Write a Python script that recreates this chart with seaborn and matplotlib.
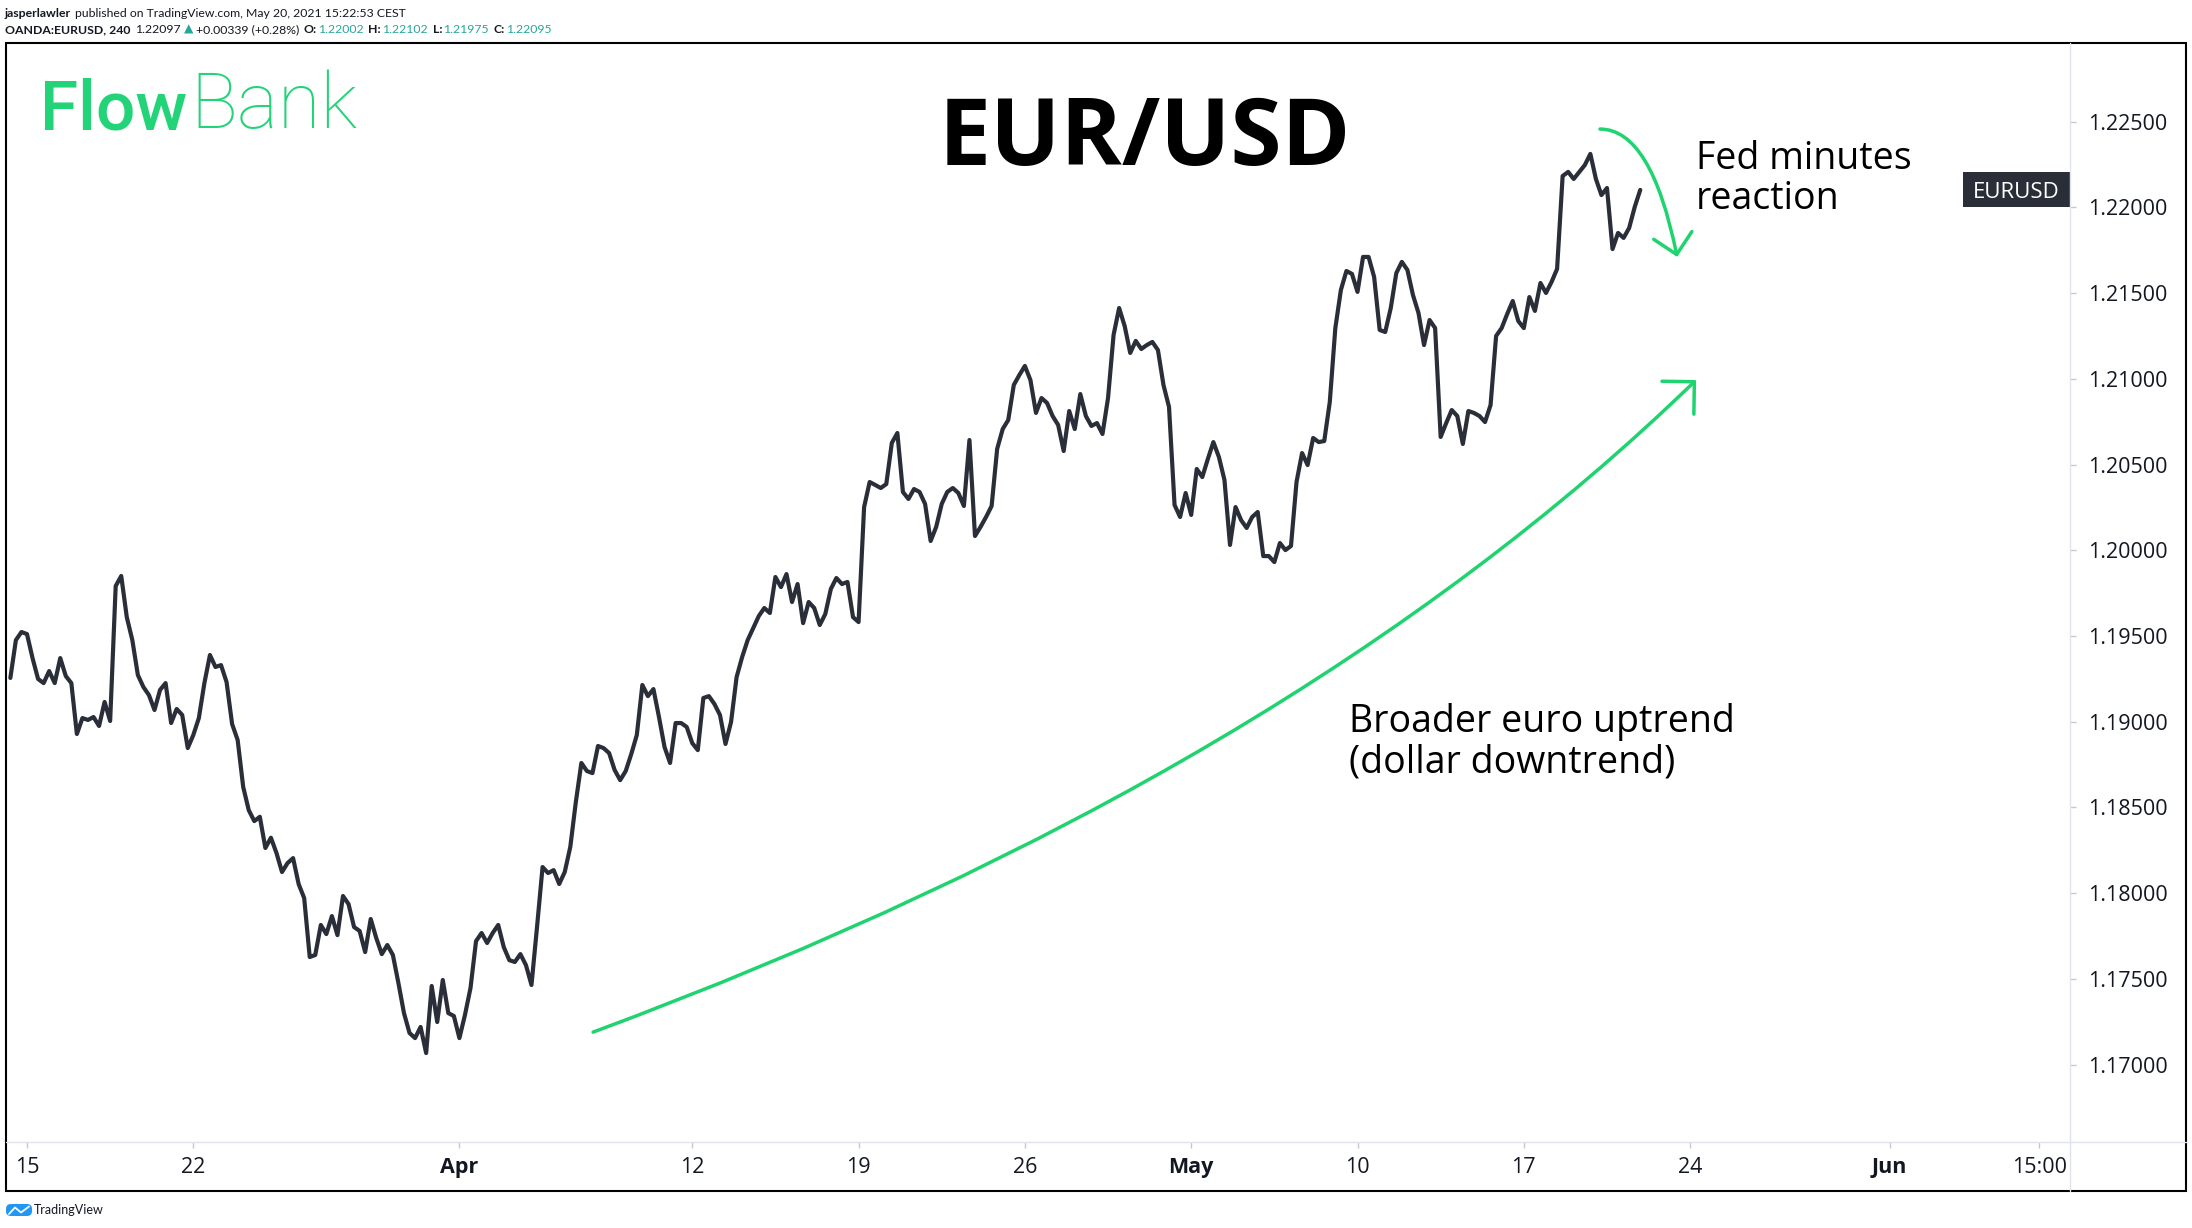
import numpy as np
import pandas as pd
import matplotlib
matplotlib.use("Agg")
import matplotlib.pyplot as plt
import seaborn as sns
from matplotlib import font_manager
from matplotlib.patches import FancyArrowPatch, Rectangle, FancyBboxPatch
from matplotlib.path import Path
from matplotlib.lines import Line2D
from matplotlib.transforms import blended_transform_factory
from matplotlib.ticker import FixedLocator, FixedFormatter

# ------------------------------------------------------------------ data
symbol = "EURUSD"
bars_per_day = 6          # 4-hour bars, 24h forex sessions
first_bar = -3            # first bar relative to Mon 15 Mar open

pre = [1.19255, 1.19476, 1.19523]
wk_0315 = [1.19511, 1.19371, 1.19249, 1.19225, 1.19295, 1.19225, 1.19371, 1.19266,
           1.19225, 1.18928, 1.19021, 1.19010, 1.19027, 1.18975, 1.19115, 1.19004,
           1.19791, 1.19850, 1.19610, 1.19476, 1.19272, 1.19202, 1.19155, 1.19068,
           1.19185, 1.19225, 1.18992, 1.19074, 1.19039, 1.18846]
wk_0322 = [1.18922, 1.19021, 1.19225, 1.19389, 1.19319, 1.19330, 1.19231, 1.18986,
           1.18893, 1.18619, 1.18484, 1.18420, 1.18445, 1.18263, 1.18323, 1.18234,
           1.18123, 1.18175, 1.18204, 1.18053, 1.17971, 1.17627, 1.17639, 1.17814,
           1.17761, 1.17866, 1.17755, 1.17983, 1.17936, 1.17802]
wk_0329 = [1.17779, 1.17656, 1.17849, 1.17738, 1.17644, 1.17697, 1.17639, 1.17475,
           1.17300, 1.17184, 1.17154, 1.17219, 1.17067, 1.17458, 1.17248, 1.17493,
           1.17300, 1.17283, 1.17154, 1.17289, 1.17446, 1.17720, 1.17767, 1.17709,
           1.17767, 1.17814, 1.17685, 1.17609, 1.17598, 1.17644]
wk_0405 = [1.17580, 1.17464, 1.17802, 1.18152, 1.18117, 1.18134, 1.18053, 1.18123,
           1.18269, 1.18531, 1.18759, 1.18712, 1.18700, 1.18858, 1.18846, 1.18817,
           1.18718, 1.18659, 1.18712, 1.18811, 1.18922, 1.19214, 1.19149, 1.19190,
           1.19027, 1.18852, 1.18759, 1.18992, 1.18992, 1.18969]
wk_0412 = [1.18875, 1.18834, 1.19138, 1.19149, 1.19103, 1.19039, 1.18870, 1.18998,
           1.19260, 1.19377, 1.19476, 1.19546, 1.19616, 1.19663, 1.19634, 1.19844,
           1.19785, 1.19861, 1.19698, 1.19803, 1.19575, 1.19698, 1.19663, 1.19564,
           1.19628, 1.19774, 1.19838, 1.19803, 1.19815, 1.19610]
wk_0419 = [1.19581, 1.20252, 1.20398, 1.20381, 1.20363, 1.20386, 1.20626, 1.20684,
           1.20340, 1.20299, 1.20357, 1.20340, 1.20270, 1.20054, 1.20136, 1.20270,
           1.20340, 1.20363, 1.20334, 1.20258, 1.20643, 1.20083, 1.20136, 1.20194,
           1.20258, 1.20591, 1.20707, 1.20760, 1.20964, 1.21022]
wk_0426 = [1.21075, 1.20993, 1.20801, 1.20888, 1.20859, 1.20783, 1.20731, 1.20579,
           1.20812, 1.20707, 1.20911, 1.20783, 1.20725, 1.20742, 1.20678, 1.20888,
           1.21256, 1.21413, 1.21308, 1.21151, 1.21221, 1.21174, 1.21197, 1.21215,
           1.21168, 1.20964, 1.20836, 1.20264, 1.20194, 1.20334]
wk_0503 = [1.20206, 1.20474, 1.20427, 1.20532, 1.20631, 1.20544, 1.20410, 1.20031,
           1.20252, 1.20176, 1.20130, 1.20194, 1.20223, 1.19966, 1.19966, 1.19931,
           1.20042, 1.20001, 1.20025, 1.20398, 1.20567, 1.20497, 1.20655, 1.20631,
           1.20637, 1.20865, 1.21296, 1.21518, 1.21629, 1.21612]
wk_0510 = [1.21507, 1.21711, 1.21711, 1.21594, 1.21285, 1.21273, 1.21413, 1.21617,
           1.21682, 1.21635, 1.21489, 1.21384, 1.21197, 1.21343, 1.21296, 1.20661,
           1.20742, 1.20818, 1.20783, 1.20620, 1.20812, 1.20801, 1.20783, 1.20748,
           1.20847, 1.21250, 1.21296, 1.21378, 1.21454, 1.21337]
wk_0517 = [1.21296, 1.21477, 1.21396, 1.21559, 1.21501, 1.21565, 1.21641, 1.22183,
           1.22207, 1.22166, 1.22207, 1.22247, 1.22312, 1.22166, 1.22072, 1.22113,
           1.21757, 1.21851, 1.21822, 1.21880, 1.22002, 1.22102]

time_tick_pos = [0, 5, 13, 20, 25, 30, 35, 40, 45, 50, 56, 60.5]
time_tick_labels = ["15", "22", "Apr", "12", "19", "26", "May", "10", "17", "24", "Jun", "15:00"]
month_labels = ["Apr", "May", "Jun"]
price_ticks = [1.170, 1.175, 1.180, 1.185, 1.190, 1.195, 1.200, 1.205, 1.210, 1.215, 1.220, 1.225]

hdr_last, hdr_chg, hdr_pct = "1.22097", "+0.00339", "+0.28%"
hdr_open, hdr_high, hdr_low, hdr_close = "1.22002", "1.22102", "1.21975", "1.22095"

title = "EUR/USD"
note_fed = ["Fed minutes", "reaction"]
note_trend = ["Broader euro uptrend", "(dollar downtrend)"]

# ------------------------------------------------------------------ style
sns.set_theme(style="white")
available = {f.name for f in font_manager.fontManager.ttflist}


def pick(*names):
    for n in names:
        if n in available:
            return n
    return "DejaVu Sans"


UI = pick("Open Sans", "Lato", "DejaVu Sans")
SMALL = pick("Lato", "Liberation Sans", "DejaVu Sans")
LOGO = pick("Liberation Sans Narrow", "Roboto", "Lato")
plt.rcParams["font.family"] = [UI, "DejaVu Sans"]

DARK = "#131722"
LINE = "#2a2e39"
GRID = "#e0e3eb"
TICK = "#c5c8d0"
TEAL = "#26a69a"
GREEN = "#1fd36f"
LOGO_GREEN = "#22d477"

W, H = 2192, 1228
fig = plt.figure(figsize=(W / 100, H / 100), dpi=100)
fig.patch.set_facecolor("white")

# plot area in pixels
L_px, R_px, T_px, B_px = 6, 2070, 43, 1142
ax = fig.add_axes([L_px / W, 1 - B_px / H, (R_px - L_px) / W, (B_px - T_px) / H])
ax.set_facecolor("white")

close = pre + wk_0315 + wk_0322 + wk_0329 + wk_0405 + wk_0412 + wk_0419 + wk_0426 + wk_0503 + wk_0510 + wk_0517
t_days = (np.arange(len(close)) + first_bar) / bars_per_day
df = pd.DataFrame({"t": t_days, "close": close})

sns.lineplot(data=df, x="t", y="close", ax=ax, color=LINE, linewidth=3.0,
             estimator=None, sort=False, zorder=3)
ax.lines[-1].set_solid_joinstyle("round")

ax.set_xlim(-0.631, 61.42)
ax.set_ylim(1.16548, 1.22959)
ax.set_xlabel("")
ax.set_ylabel("")
for s in ax.spines.values():
    s.set_visible(False)
ax.grid(False)

ax.yaxis.tick_right()
ax.yaxis.set_major_locator(FixedLocator(price_ticks))
ax.yaxis.set_major_formatter(FixedFormatter([f"{p:.5f}" for p in price_ticks]))
ax.tick_params(axis="y", which="both", right=True, left=False, labelright=True, labelleft=False,
               length=4, width=1, color=TICK, pad=9, labelsize=15.5, labelcolor=DARK)
ax.xaxis.set_major_locator(FixedLocator(time_tick_pos))
ax.xaxis.set_major_formatter(FixedFormatter(time_tick_labels))
ax.tick_params(axis="x", which="both", bottom=True, length=4, width=1, color=TICK,
               pad=7, labelsize=15.5, labelcolor=DARK)
for lab in ax.get_xticklabels():
    if lab.get_text() in month_labels:
        lab.set_fontweight("bold")

# last-price tag
blend = blended_transform_factory(ax.transAxes, ax.transData)
ax_w_px, ax_h_px = R_px - L_px, B_px - T_px
data_per_px = (ax.get_ylim()[1] - ax.get_ylim()[0]) / ax_h_px
tag_w = 107 / ax_w_px
tag_h = 35 * data_per_px
ax.add_patch(Rectangle((1 - tag_w, close[-1] - tag_h / 2), tag_w, tag_h, transform=blend,
                       facecolor=LINE, edgecolor="none", zorder=5, clip_on=False))
ax.text(1 - tag_w / 2, close[-1], symbol, transform=blend, ha="center", va="center_baseline",
        color="white", fontsize=16, zorder=6, clip_on=False)

# annotation arrows (data coordinates)
trend_path = Path([(17.02, 1.17189), (37.96, 1.18693), (50.18, 1.20993)],
                  [Path.MOVETO, Path.CURVE3, Path.CURVE3])
ax.add_patch(FancyArrowPatch(path=trend_path, arrowstyle="->,head_length=0.5,head_width=0.5",
                             mutation_scale=33, color=GREEN, lw=2.5, zorder=4,
                             transform=ax.transData))
fed_path = Path([(47.29, 1.22457), (48.83, 1.22457), (49.61, 1.21711)],
                [Path.MOVETO, Path.CURVE3, Path.CURVE3])
ax.add_patch(FancyArrowPatch(path=fed_path, arrowstyle="->,head_length=0.5,head_width=0.5",
                             mutation_scale=28, color=GREEN, lw=2.5, zorder=4,
                             transform=ax.transData))

# ------------------------------------------------------------------ overlay (pixel coords)
ov = fig.add_axes([0, 0, 1, 1], zorder=10)
ov.set_xlim(0, W)
ov.set_ylim(H, 0)
ov.axis("off")

ov.add_line(Line2D([R_px, R_px], [T_px, 1191], color=GRID, lw=1.0))
ov.add_line(Line2D([L_px, 2186], [B_px, B_px], color=GRID, lw=1.0))
ov.add_patch(Rectangle((6, 43), 2180, 1148, fill=False, edgecolor="black", lw=1.5))


def chain(parts, x, y, family):
    prev = None
    for text, weight, color, gap, fontsize in parts:
        if prev is None:
            prev = ov.text(x, y, text, ha="left", va="baseline", fontsize=fontsize,
                           fontweight=weight, color=color, family=family)
        else:
            prev = ov.annotate(text, xy=(1, 0), xycoords=prev, xytext=(gap, 0),
                               textcoords="offset pixels", ha="left", va="bottom",
                               fontsize=fontsize, fontweight=weight, color=color,
                               family=family)
    return prev


hfam = [SMALL, "DejaVu Sans"]
hs = 8.8
chain([("jasperlawler", "bold", DARK, 0, hs),
       ("published on TradingView.com, May 20, 2021 15:22:53 CEST", "normal", DARK, 4, hs)],
      5, 17, hfam)
chain([("OANDA:EURUSD, 240", "bold", DARK, 0, hs),
       (hdr_last, "normal", DARK, 5, hs),
       ("\u25b2", "normal", TEAL, 3, hs),
       (f"{hdr_chg} ({hdr_pct})", "normal", DARK, 3, hs),
       ("O:", "bold", DARK, 4, hs), (hdr_open, "normal", TEAL, 1, hs),
       ("H:", "bold", DARK, 5, hs), (hdr_high, "normal", TEAL, 1, hs),
       ("L:", "bold", DARK, 5, hs), (hdr_low, "normal", TEAL, 1, hs),
       ("C:", "bold", DARK, 5, hs), (hdr_close, "normal", TEAL, 1, hs)],
      5, 33, hfam)

# FlowBank logo
if LOGO == "Liberation Sans Narrow":
    chain([("Flow", "bold", LOGO_GREEN, 0, 60), ("Bank", "normal", LOGO_GREEN, 3, 60)],
          40, 130, [LOGO, "DejaVu Sans"])
else:
    chain([("Flow", "medium", LOGO_GREEN, 0, 50), ("Bank", 200, LOGO_GREEN, 3, 56)],
          40, 130, [LOGO, "DejaVu Sans"])

# title and notes
ov.text(1144.5, 165, title, ha="center", va="baseline", fontsize=67, fontweight="bold",
        color="black", family=[UI, "DejaVu Sans"])
ov.text(1696, 169, note_fed[0], ha="left", va="baseline", fontsize=27, color="black")
ov.text(1696, 209, note_fed[1], ha="left", va="baseline", fontsize=27, color="black")
ov.text(1349, 732, note_trend[0], ha="left", va="baseline", fontsize=27, color="black")
ov.text(1349, 773, note_trend[1], ha="left", va="baseline", fontsize=27, color="black")

# TradingView footer
ov.add_patch(FancyBboxPatch((6, 1204), 26, 12, boxstyle="round,pad=0,rounding_size=5",
                            facecolor="#2196f3", edgecolor="none"))
ov.add_line(Line2D([9, 15, 21, 29], [1214, 1207.5, 1212.5, 1206.5], color="white", lw=1.3))
ov.text(34, 1210, "TradingView", ha="left", va="center", fontsize=9, color=DARK,
        family=[SMALL, "DejaVu Sans"])

fig.savefig("out.png", dpi=100, facecolor="white")
